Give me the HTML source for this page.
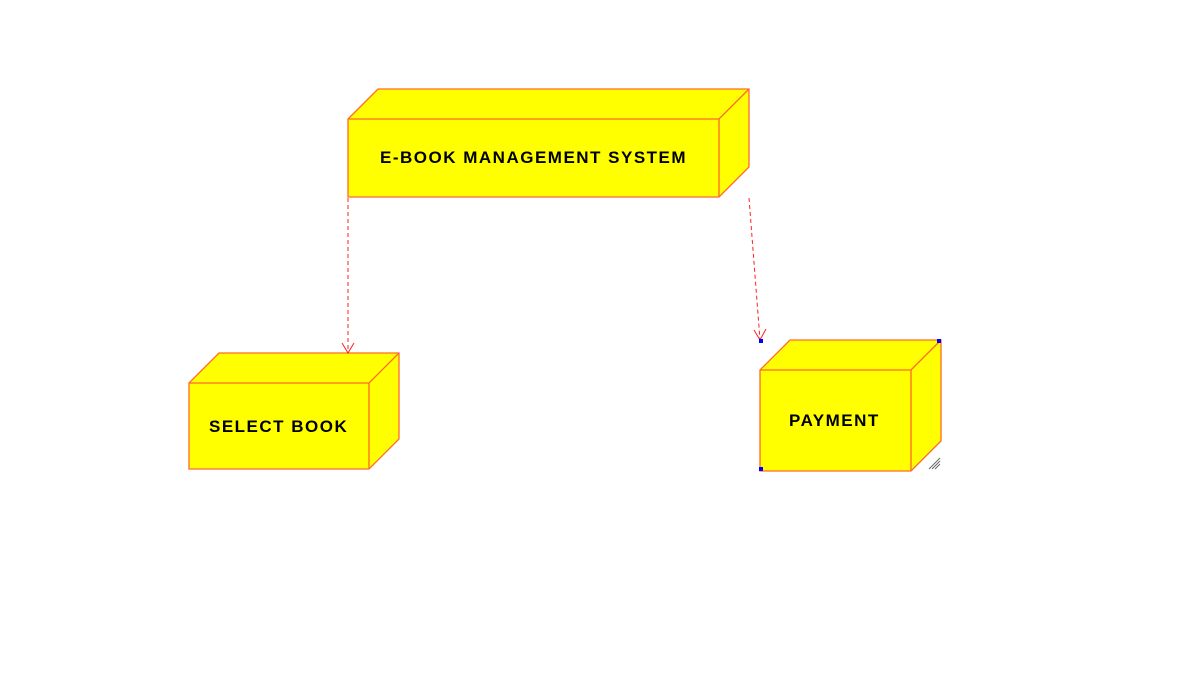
<!DOCTYPE html>
<html><head><style>body{margin:0;background:#fff}svg{display:block}</style></head><body>
<svg width="1195" height="692" viewBox="0 0 1195 692" xmlns="http://www.w3.org/2000/svg" font-family="Liberation Sans, Arial, sans-serif">
<g fill="#ffff00" stroke="#ff6a2a" stroke-width="1.3">
<polygon points="348,119 378,89 749,89 749,167 719,197 348,197"/>
<polyline points="348,119 719,119 749,89" fill="none"/><line x1="719" y1="119" x2="719" y2="197"/>
<polygon points="189,383 219,353 399,353 399,439 369,469 189,469"/>
<polyline points="189,383 369,383 399,353" fill="none"/><line x1="369" y1="383" x2="369" y2="469"/>
<polygon points="760,370 790,340 941,340 941,441 911,471 760,471"/>
<polyline points="760,370 911,370 941,340" fill="none"/><line x1="911" y1="370" x2="911" y2="471"/>
</g>
<g stroke="#ff2020" stroke-width="1" fill="none" stroke-dasharray="4,3">
<line x1="348" y1="198" x2="348" y2="352"/>
<line x1="749" y1="198" x2="760" y2="340"/>
</g>
<g stroke="#ff2020" stroke-width="1" fill="none">
<polyline points="342,343 348,353 354,343"/>
<polyline points="754,330 760,340 766,329"/>
</g>
<rect x="759" y="339" width="4" height="4" fill="#0000ff"/>
<rect x="937" y="339" width="4" height="4" fill="#0000ff"/>
<rect x="759" y="467" width="4" height="4" fill="#0000ff"/>
<g stroke="#666" stroke-width="1"><line x1="929" y1="469" x2="940" y2="458"/><line x1="932" y1="469" x2="940" y2="461"/><line x1="935" y1="469" x2="940" y2="464"/></g>
<g font-weight="bold" font-size="17" fill="#000" letter-spacing="1.5">
<text x="380" y="163">E-BOOK MANAGEMENT SYSTEM</text>
<text x="209" y="432">SELECT BOOK</text>
<text x="789" y="426">PAYMENT</text>
</g>
</svg>
</body></html>
